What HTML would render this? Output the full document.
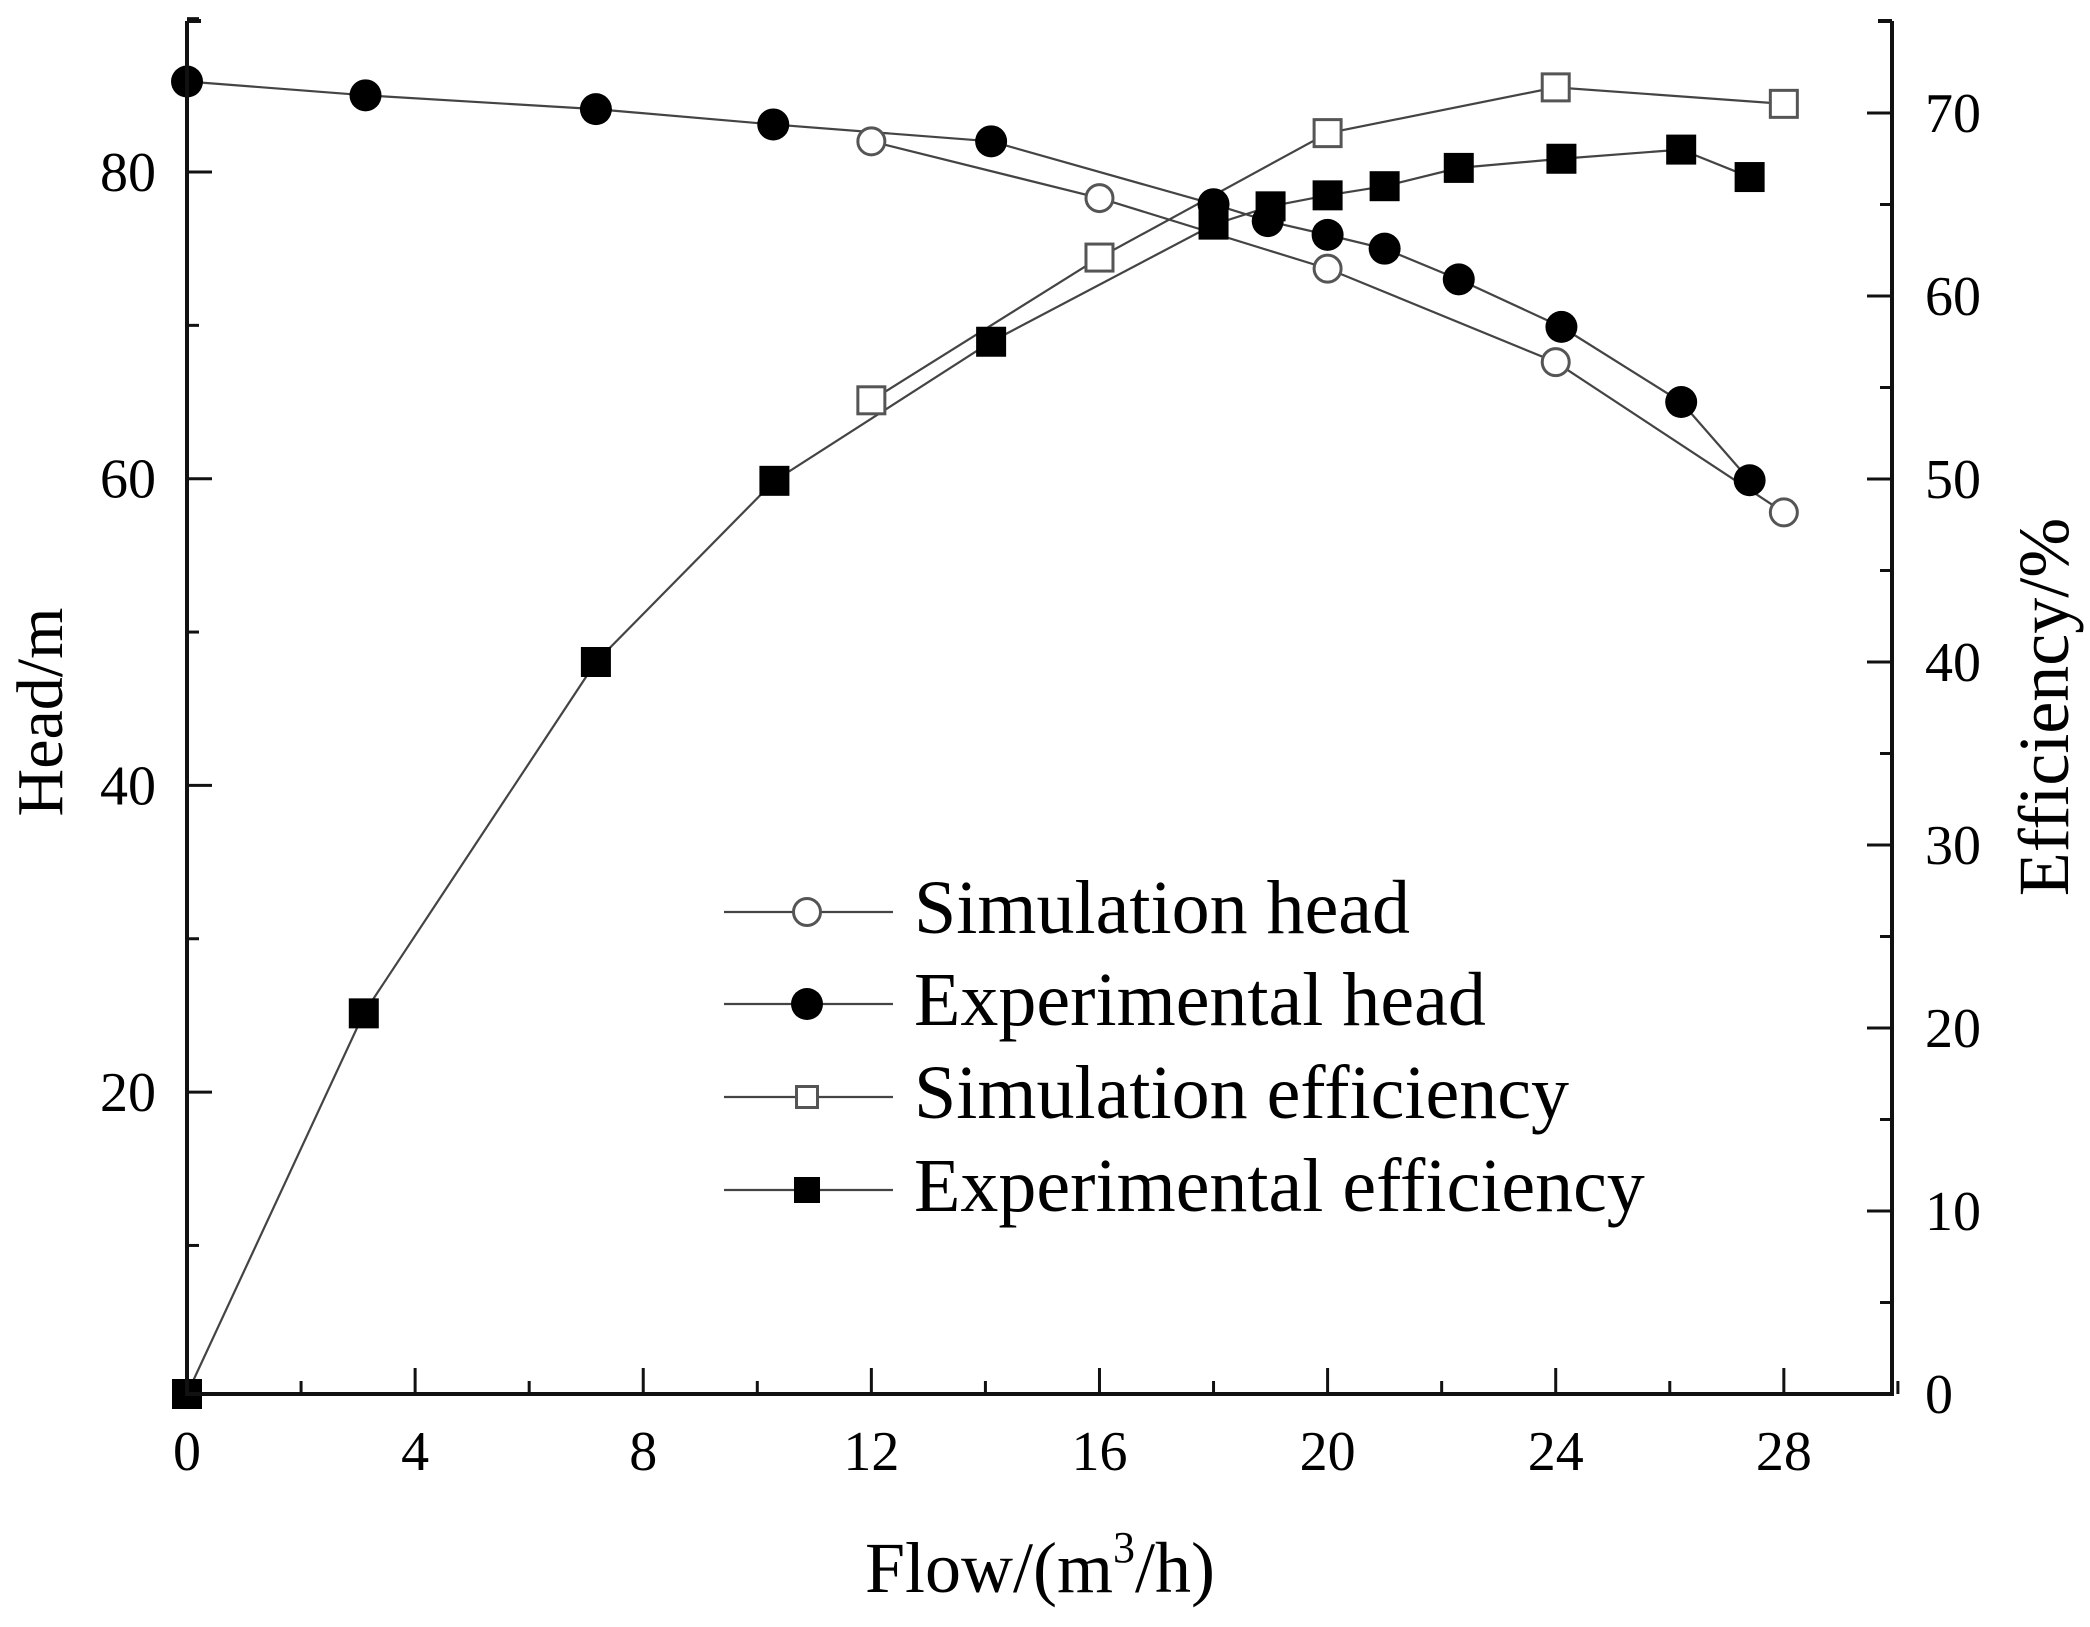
<!DOCTYPE html>
<html><head><meta charset="utf-8"><style>
html,body{margin:0;padding:0;background:#fff;}
svg text{font-family:"Liberation Serif",serif;fill:#000;}
</style></head>
<body>
<svg id="chart" width="2090" height="1622" viewBox="0 0 2090 1622" xmlns="http://www.w3.org/2000/svg">
<g id="series"></g>
<g id="axes"></g>
<g id="legend"></g>
<text x="1040" y="1592" font-size="72" text-anchor="middle">Flow/(m<tspan font-size="44" dy="-30">3</tspan><tspan dy="30">/h)</tspan></text>
<text transform="translate(62,712) rotate(-90)" font-size="66" text-anchor="middle">Head/m</text>
<text transform="translate(2068,707) rotate(-90)" font-size="72" text-anchor="middle">Efficiency/%</text>
</svg>
<script>
const xTicks = [0,4,8,12,16,20,24,28];
const headTicks = [20,40,60,80];
const effTicks = [0,10,20,30,40,50,60,70];
const expHeadFlow = [0,3.13,7.17,10.28,14.1,18.0,18.95,20.0,21.0,22.3,24.1,26.2,27.4];
const expHeadVal = [85.9,85.0,84.1,83.1,82.0,77.9,76.8,75.9,75.0,73.0,69.9,65.0,59.9];
const simHeadFlow = [12,16,20,24,28];
const simHeadVal = [82.0,78.3,73.7,67.6,57.8];
const simEffFlow = [12,16,20,24,28];
const simEffVal = [54.3,62.1,68.9,71.4,70.5];
const expEffFlow = [0,3.1,7.17,10.3,14.1,18.0,19.0,20.0,21.0,22.3,24.1,26.2,27.4];
const expEffVal = [0,20.8,40.0,49.9,57.5,63.9,64.9,65.5,66.0,67.0,67.5,68.0,66.5];

const NS="http://www.w3.org/2000/svg";
const L=187,R=1892,T=21,B=1394;
const sx=v=>L+v*57.03;
const syH=v=>172+(80-v)*15.335;
const syE=v=>B-v*18.3;
function mk(tag,attrs,parent){const e=document.createElementNS(NS,tag);for(const k in attrs)e.setAttribute(k,attrs[k]);parent.appendChild(e);return e;}
const axes=document.getElementById('axes');
let a=mk('path',{d:`M${L},${T}V${B}H${R}V${T}`,fill:'none',stroke:'#111','stroke-width':4},axes);


let tl=mk('path',{d:`M${L},${T}h14M${R},${T}h-14`,stroke:'#111','stroke-width':4},axes);


for(let v=0;v<=30;v+=2){const x=sx(v);const major=v%4===0;
 const t=mk('line',{x1:x,x2:x,y1:B,y2:B-(major?26:13),stroke:'#111','stroke-width':3},axes);
 
 }
xTicks.forEach(v=>{const t=mk('text',{x:sx(v),y:1470,'font-size':56,'text-anchor':'middle'},axes);t.textContent=v;
 
 });
for(let v=10;v<=90;v+=10){const y=syH(v);const major=v%20===0;
 const t=mk('line',{x1:L,x2:L+(major?25:12),y1:y,y2:y,stroke:'#111','stroke-width':3},axes);
 
 }
headTicks.forEach(v=>{const t=mk('text',{x:156,y:syH(v)+19,'font-size':56,'text-anchor':'end'},axes);t.textContent=v;
 
 });
for(let v=5;v<=75;v+=5){const y=syE(v);const major=v%10===0;
 const t=mk('line',{x1:R,x2:R-(major?25:12),y1:y,y2:y,stroke:'#111','stroke-width':3},axes);
 
 }
effTicks.forEach(v=>{const t=mk('text',{x:1925,y:syE(v)+19,'font-size':56,'text-anchor':'start'},axes);t.textContent=v;
 
 });

const ser=document.getElementById('series');
function line(xs,ys,ymap,name){const d=xs.map((x,i)=>(i?'L':'M')+sx(x)+','+ymap(ys[i])).join('');
 const p=mk('path',{d:d,fill:'none',stroke:'#444','stroke-width':2.2},ser);
 
 }
function marker(g,type,cx,cy,size){let m;
 if(type==='oc')m=mk('circle',{cx:cx,cy:cy,r:size/2-1.5,fill:'#fff',stroke:'#555','stroke-width':3},g);
 else if(type==='fc')m=mk('circle',{cx:cx,cy:cy,r:size/2,fill:'#000'},g);
 else if(type==='os')m=mk('rect',{x:cx-size/2+1.5,y:cy-size/2+1.5,width:size-3,height:size-3,fill:'#fff',stroke:'#555','stroke-width':3},g);
 else m=mk('rect',{x:cx-size/2,y:cy-size/2,width:size,height:size,fill:'#000'},g);
 return m;}
line(simEffFlow,simEffVal,syE,'simulation-efficiency-line');
line(expEffFlow,expEffVal,syE,'experimental-efficiency-line');
line(simHeadFlow,simHeadVal,syH,'simulation-head-line');
line(expHeadFlow,expHeadVal,syH,'experimental-head-line');
simEffFlow.forEach((x,i)=>{const m=marker(ser,'os',sx(x),syE(simEffVal[i]),30);
 
 });
expEffFlow.forEach((x,i)=>{const m=marker(ser,'fs',sx(x),syE(expEffVal[i]),30);
 
 });
simHeadFlow.forEach((x,i)=>{const m=marker(ser,'oc',sx(x),syH(simHeadVal[i]),30);
 
 });
expHeadFlow.forEach((x,i)=>{const m=marker(ser,'fc',sx(x),syH(expHeadVal[i]),32);
 
 });

const leg=document.getElementById('legend');
const legItems=[['oc','Simulation head',912,30,'legend-simulation-head'],['fc','Experimental head',1004,32,'legend-experimental-head'],['os','Simulation efficiency',1097,24,'legend-simulation-efficiency'],['fs','Experimental efficiency',1190,26,'legend-experimental-efficiency']];
legItems.forEach(it=>{const g=mk('g',{},leg);
 
 
 mk('line',{x1:724,x2:893,y1:it[2],y2:it[2],stroke:'#444','stroke-width':2.2},g);
 marker(g,it[0],807,it[2],it[3]);
 const t=mk('text',{x:914,y:it[2]+21,'font-size':76},g);t.textContent=it[1];});
</script>
</body></html>
